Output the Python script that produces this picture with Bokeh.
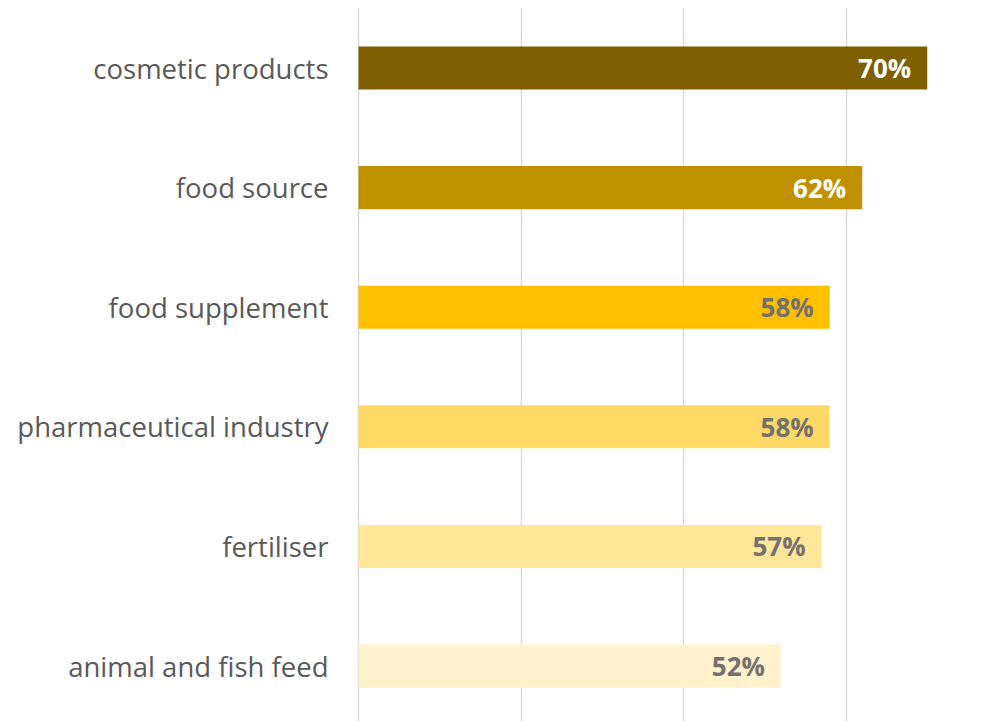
from bokeh.plotting import figure
from bokeh.models import ColumnDataSource, Range1d, FixedTicker, LabelSet
from bokeh.core.properties import value
from bokeh.embed import file_html
from bokeh.resources import INLINE

# Data (top to bottom as shown)
categories = ["cosmetic products", "food source", "food supplement",
              "pharmaceutical industry", "fertiliser", "animal and fish feed"]
values = [70, 62, 58, 58, 57, 52]
label_texts = ["70%", "62%", "58%", "58%", "57%", "52%"]
grid_ticks = [0, 20, 40, 60, 80]

# Styles
bar_colors = ["#7F6000", "#BF9000", "#FFC000", "#FFD966", "#FFE699", "#FFF2CC"]
text_colors = ["#FFFFFF", "#FFFFFF", "#767171", "#767171", "#767171", "#767171"]

n = len(categories)
ypos = [n - 1 - i for i in range(n)]

src = ColumnDataSource(dict(y=ypos, v=values, cat=categories, lab=label_texts,
                            col=bar_colors, tcol=text_colors))

W, H = 999, 721
LEFT = 350
TOP = 7
px_per_unit = 8.125
x0 = -8 / px_per_unit
p = figure(width=W, height=H, output_backend="svg", toolbar_location=None,
           x_range=Range1d(x0, x0 + (W - LEFT) / px_per_unit),
           y_range=Range1d(-0.464, n - 1 + 0.506),
           min_border_left=LEFT, min_border_right=0, min_border_top=TOP,
           min_border_bottom=0)

p.hbar(y="y", right="v", left=0, height=0.36, fill_color="col",
       line_color=None, source=src)

labels = LabelSet(x="v", y="y", text="lab", source=src, x_offset=-16,
                  text_align="right", text_baseline="middle",
                  text_font=value("Open Sans"), text_font_style="bold",
                  text_font_size="26px", text_color="tcol")
p.add_layout(labels)

p.xaxis.visible = False
p.xgrid.ticker = FixedTicker(ticks=grid_ticks)
p.xgrid.grid_line_color = "#D9D9D9"
p.xgrid.grid_line_width = 1.5
p.ygrid.grid_line_color = None

ya = p.yaxis[0]
ya.ticker = FixedTicker(ticks=ypos)
ya.major_label_overrides = {y: c for y, c in zip(ypos, categories)}
ya.axis_line_color = None
ya.major_tick_line_color = None
ya.minor_tick_line_color = None
ya.major_tick_out = 0
ya.major_tick_in = 0
ya.major_label_standoff = 22
ya.major_label_text_font = "Open Sans"
ya.major_label_text_font_size = "27.5px"
ya.major_label_text_color = "#595959"

p.outline_line_color = None
p.background_fill_color = "white"
p.border_fill_color = "white"

open("out.html", "w").write(file_html(p, INLINE))
